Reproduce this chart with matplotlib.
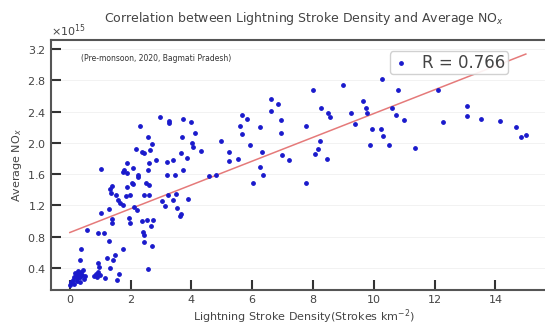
import numpy as np
import matplotlib
matplotlib.use("Agg")
import matplotlib.pyplot as plt
from matplotlib.ticker import ScalarFormatter

# Lightning stroke density (strokes km^-2) and average NOx (x1e15)
stroke_density = [
    # dense cluster near zero
    0.00, 0.05, 0.10, 0.15, 0.20, 0.25, 0.30, 0.35, 0.40, 0.45, 0.18, 0.28, 0.38, 0.22, 0.33,
    0.42, 0.50, 0.12, 0.30, 0.25, 0.38, 0.35, 0.56,
    # low values 0.7 - 2.6
    0.92, 0.95, 0.92, 0.89, 0.79, 1.22, 1.15, 1.32, 1.48, 1.41, 1.55, 1.61, 1.74, 2.57, 0.85, 1.00,
    # lower-middle cluster
    0.92, 1.12, 1.28, 1.38, 1.28, 1.51, 1.58, 1.64, 1.74, 1.84, 1.97, 1.38, 1.88, 2.04, 2.11,
    2.20, 1.94, 2.37, 2.53, 2.40, 2.43, 2.43, 2.70, 2.73, 2.24, 2.50, 2.43, 2.60, 1.74, 1.02,
    1.38, 1.97, 2.66, 1.35, 1.33,
    # upper-middle cluster
    2.96, 3.26, 3.26, 3.72, 3.98, 2.30, 2.57, 2.70, 2.17, 2.37, 2.43, 2.63, 3.68, 4.11, 4.01,
    4.05, 3.65, 3.39, 3.19, 3.85, 2.83, 2.60, 1.04, 1.88, 1.78, 2.07, 1.88, 2.57, 2.24, 2.60,
    3.19, 3.45, 3.72, 2.07,
    3.22, 3.49, 3.39, 3.52, 3.65, 3.03, 3.12, 3.88, 3.62,
    # 4.3 - 11.5
    5.66, 5.82, 5.59, 5.66, 6.25, 6.94, 6.94, 7.76, 8.55, 9.38, 9.77, 9.93, 10.23, 10.30, 10.49,
    11.35, 9.87,
    4.97, 5.23, 5.23, 5.92, 5.53, 6.32, 6.25, 6.35, 6.02, 6.97, 7.20, 7.76, 8.06, 8.16, 8.22,
    8.45, 4.57, 4.80, 4.31,
    6.61, 6.84, 6.61, 7.99, 8.98, 8.26, 8.49, 9.24, 9.64, 9.74, 10.26, 10.79, 10.59, 10.72, 10.99,
    # right tail
    12.10, 13.06, 13.06, 13.52, 14.14, 14.67, 14.84, 15.00, 12.27,
]
avg_nox = [
    0.18, 0.22, 0.25, 0.28, 0.30, 0.27, 0.33, 0.29, 0.31, 0.26, 0.34, 0.36, 0.35, 0.24, 0.22,
    0.38, 0.30, 0.20, 0.28, 0.32, 0.64, 0.50, 0.89,
    0.46, 0.41, 0.35, 0.28, 0.30, 0.53, 0.27, 0.40, 0.57, 0.50, 0.25, 0.32, 0.64, 0.39, 0.33, 0.31,
    0.85, 0.85, 0.75, 0.98, 1.15, 1.33, 1.27, 1.23, 1.21, 1.32, 1.33, 1.45, 1.44, 1.49, 1.18,
    1.14, 1.04, 1.00, 1.01, 0.86, 0.82, 0.73, 0.68, 1.01, 1.59, 1.49, 1.33, 1.33, 1.63, 1.10,
    1.03, 0.98, 0.94, 1.36, 1.41,
    2.33, 2.28, 2.25, 2.31, 2.27, 2.22, 2.08, 1.99, 1.92, 1.88, 1.87, 1.91, 2.08, 2.13, 2.00,
    1.95, 1.87, 1.78, 1.76, 1.81, 1.78, 1.74, 1.66, 1.74, 1.65, 1.68, 1.61, 1.65, 1.56, 1.46,
    1.59, 1.59, 1.65, 1.47,
    1.33, 1.35, 1.27, 1.17, 1.09, 1.26, 1.19, 1.28, 1.06,
    2.36, 2.30, 2.22, 2.11, 2.20, 2.29, 2.13, 2.22, 2.33, 2.24, 2.38, 2.18, 2.18, 2.09, 1.97,
    1.94, 1.97,
    2.02, 1.88, 1.77, 1.97, 1.79, 1.88, 1.69, 1.59, 1.49, 1.84, 1.78, 1.49, 1.86, 1.92, 2.02,
    1.79, 1.58, 1.59, 1.90,
    2.56, 2.50, 2.41, 2.68, 2.74, 2.45, 2.38, 2.38, 2.53, 2.45, 2.82, 2.68, 2.44, 2.36, 2.29,
    2.68, 2.47, 2.34, 2.30, 2.28, 2.20, 2.07, 2.10, 2.27,
]

# regression line
fit_slope = 0.152
fit_intercept = 0.855
r_value = 0.766

SCALE = 1e15

x = np.array(stroke_density)
y = np.array(avg_nox) * SCALE

fig = plt.figure(figsize=(5.45, 3.29), dpi=100)
# right spine falls outside the picture, as in the cropped original
ax = fig.add_axes([0.0936, 0.1185, 0.927, 0.760])

ax.scatter(x, y, s=6, color='#1a1acc', label=f'R = {r_value}', zorder=3)

line_x = np.array([0, x.max()])
ax.plot(line_x, (fit_slope * line_x + fit_intercept) * SCALE, color='#e57a7a', linewidth=1.1, zorder=2)

ax.set_xlim(-0.62, 16.0)
ax.set_ylim(0.12 * SCALE, 3.315 * SCALE)
ax.set_xticks(np.arange(0, 15, 2))
ax.set_yticks(np.arange(0.4, 3.3, 0.4) * SCALE)

fmt = ScalarFormatter(useMathText=True)
fmt.set_powerlimits((0, 0))
ax.yaxis.set_major_formatter(fmt)
ax.yaxis.get_offset_text().set_fontsize(8)
ax.yaxis.get_offset_text().set_color('#444444')

ax.tick_params(direction='in', length=7, width=1.5, labelsize=8, colors='#333333', labelcolor='#444444')
ax.tick_params(axis='x', top=False)
ax.tick_params(axis='y', right=False)
ax.grid(axis='y', color='#e6e6e6', linewidth=0.7, alpha=0.5)

for side in ['left', 'bottom', 'top']:
    ax.spines[side].set_color('#555555')
    ax.spines[side].set_linewidth(1.5)
ax.spines['right'].set_visible(False)

ax.set_title('Correlation between Lightning Stroke Density and Average NO$_x$',
             fontsize=9, color='#444444', pad=13)
ax.set_xlabel('Lightning Stroke Density(Strokes km$^{-2}$)', fontsize=8, color='#444444', labelpad=2)
ax.set_ylabel('Average NO$_x$', fontsize=8, color='#444444', labelpad=2)

ax.text(0.06, 0.915, '(Pre-monsoon, 2020, Bagmati Pradesh)', transform=ax.transAxes,
        fontsize=5.5, color='#333333')

ax.legend(loc='upper right', bbox_to_anchor=(0.905, 0.955), fontsize=12, borderpad=0.15,
          handlelength=1.0, handletextpad=0.8, borderaxespad=0, framealpha=0.9,
          labelcolor='#444444')

fig.savefig('out.png', dpi=100)
